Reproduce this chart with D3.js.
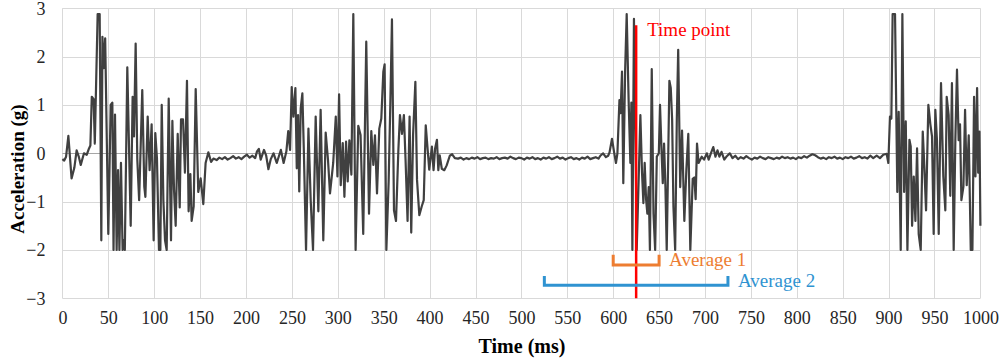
<!DOCTYPE html>
<html>
<head>
<meta charset="utf-8">
<script src="https://cdn.jsdelivr.net/npm/d3@7"></script>
<style>
  html, body { margin: 0; padding: 0; background: #fff; }
  svg { display: block; }
  text { font-family: "Liberation Serif", "Times New Roman", serif; }
</style>
</head>
<body>
<svg id="chart" width="1003" height="361"></svg>
<script>
// ---- data: [time (ms), acceleration (g)] ----
const burst1 = [
  [0,-0.12],[2,-0.15],[4,-0.07],[6.5,0.36],[10,-0.52],[13,-0.3],[15.5,0.06],[18,-0.08],[20,-0.24],
  [23.5,0.0],[26.5,-0.03],[29,0.1],[30.5,0.16],[32,1.17],[34,1.12],[35.3,0.2],[38.4,2.88],[40.6,2.88],
  [42.4,-1.8],[43.6,2.41],[45,1.76],[46.6,2.38],[50,-1.67],[52.6,1.0],[54.4,1.05],[55.7,-2.0],[57.3,0.8],
  [59.1,-2.0],[60.6,-0.35],[62.1,-2.0],[63.8,-0.2],[65.6,-2.0],[66.8,-1.8],[68,-2.0],[70.7,1.78],
  [74.4,-1.5],[76.5,1.17],[78,0.35],[79.8,2.27],[81.6,-0.13],[83.6,-0.97],[87,1.31],[89.2,-0.69],
  [90.4,-0.9],[92.9,0.76],[95,-0.35],[97.2,0.6],[99.4,-1.8],[101.2,0.42],[103,-0.1],[105.2,-2.0],
  [106.7,-2.0],[108.2,1.0],[110,-0.97],[111.8,-1.8],[113.6,-2.0],[115.8,1.13],[118.3,-1.8],[119.8,0.67],
  [121.6,-0.76],[123.4,-1.5],[125.6,0.4],[127.8,-1.12],[129.2,0.7],[131.4,0.7],[133.5,-0.4],[135.7,1.5],
  [137.5,-1.2],[139.4,-0.43],[140.8,-1.4],[143,-1.1],[145.2,1.33],[148,-0.8],[150.6,-0.52],[153.5,-1.05],
  [156,-0.2],[159,0.02],[162,-0.18],[164.5,-0.11]
];
const quiet1 = [
  [168,-0.14],[171,-0.09],[174,-0.12],[177,-0.08],[180,-0.13],[183,-0.1],[186,-0.06],[189,-0.11],
  [192,-0.08],[195,-0.12],[198,-0.07],[201,-0.03],[204,-0.09],[207,-0.05],[210,-0.1],[212,0.04],
  [214,0.09],[216,-0.13],[219.6,0.07],[222,-0.05],[224.4,-0.33],[227,-0.12],[230,0.0],[233.5,-0.2],
  [236,-0.05],[238,0.07],[241,-0.2],[244,0.04]
];
const burst2 = [
  [246,0.46],[248,0.07],[249.8,1.37],[251.6,0.76],[253.8,1.35],[255.3,-0.31],[256.7,0.79],[258,-0.79],
  [259.6,0.93],[261.4,1.24],[263,0.06],[265.4,-2.0],[268,0.51],[270.5,-0.98],[273,-2.0],[275.9,0.76],
  [278.8,-1.2],[281.3,0.9],[284.2,-1.8],[286.8,0.43],[289.3,-0.13],[291.5,-0.83],[295,-0.2],[297.8,0.76],
  [299.6,-0.48],[301.4,1.22],[303.2,-0.66],[305.4,0.21],[307.2,-0.9],[309,0.24],[310.8,-0.58],[312.6,0.27],
  [314.8,-0.44],[316.9,2.88],[319.4,-2.0],[322.3,0.57],[324.8,0.38],[327.7,-1.67],[331,2.31],[334,-1.25],
  [336.5,0.46],[338.7,-0.24],[340.5,0.37],[342.7,-0.83],[345.2,0.51],[347.4,0.72],[349.6,1.69],[351,1.84],
  [352.9,-2.0],[355.4,-0.58],[357.3,1.1],[359,2.77],[361.2,-1.18],[363.4,-1.4],[366,0.08],[367.7,0.79],
  [369.9,0.4],[372,0.79],[373.8,-0.13],[376,-1.4],[378.2,0.76],[380,-1.64],[382,0.38],[384.5,1.48],
  [386.3,-0.55],[388.8,-1.28],[391.4,-1.1],[393.6,-0.97],[395.8,0.58],[399.6,-0.34],[402.5,0.14],
  [404.3,-0.35],[406,0.1],[408,0.28],[409.5,-0.35],[411,-0.04],[413.3,-0.32],[416,-0.35],[418.6,-0.25],
  [422,-0.05],[424.6,-0.02],[427.5,-0.1]
];
const quiet2 = [
  [431,-0.11],[434,-0.09],[437,-0.13],[440,-0.1],[443,-0.12],[446,-0.09],[449,-0.11],[452,-0.08],
  [455,-0.12],[458,-0.1],[461,-0.09],[464,-0.12],[467,-0.1],[470,-0.11],[473,-0.08],[476,-0.12],
  [479,-0.1],[482,-0.09],[485,-0.11],[488,-0.07],[491,-0.1],[494,-0.12],[497,-0.09],[500,-0.1],
  [503,-0.13],[506,-0.09],[509,-0.11],[512,-0.08],[515,-0.12],[518,-0.1],[521,-0.13],[524,-0.09],
  [527,-0.11],[530,-0.08],[533,-0.12],[536,-0.1],[539,-0.07],[542,-0.11],[545,-0.09],[548,-0.13],
  [551,-0.1],[554,-0.08],[557,-0.12],[560,-0.1],[563,-0.13],[566,-0.09],[569,-0.11],[572,-0.07],
  [575,-0.12],[578,-0.1],[581,-0.08],[584,-0.11],[586,-0.05],[589,0.0],[592,-0.08],[594.5,-0.05]
];
const burst3 = [
  [596,0.02],[598.7,0.3],[601,0.02],[603,-0.2],[604.6,0.0],[606.8,1.1],[608,0.83],[609.6,1.69],
  [611,-0.62],[613,1.72],[614.7,2.88],[616.8,1.1],[618.7,-0.2],[619.8,1.05],[620.9,-2.0],[622.6,2.78],
  [624,0.9],[625.6,-2.0],[627.8,-0.5],[629.6,0.79],[631.4,-0.4],[632.9,-1.03],[634.3,-0.2],[635.8,-0.95],
  [637.2,-1.25],[638.7,-0.7],[640,-2.0],[642,1.74],[643.9,-1.25],[645.7,-2.0],[647.5,-0.07],[649.7,0.0],
  [651,1.0],[652.5,0.13],[654,-0.62],[655.4,0.2],[656.9,-0.7],[658.3,-2.0],[660,0.0],[661.2,1.5],
  [662.7,1.35],[664.2,0.7],[665.6,-1.1],[667.5,-2.0],[669.3,0.7],[670.8,2.14],[673,-0.7],[675,0.47],
  [677.5,-1.4],[679.7,-0.34],[681.8,0.4],[684,-2.0],[686.6,-0.53],[688.4,-0.5],[689.8,-0.95],[691.3,0.2],
  [693,-0.2],[696.4,-0.07],[699,-0.13],[702,0.0],[704,-0.13],[707,0.03],[709,0.13],[711.4,-0.07],
  [713.6,0.06],[715.7,-0.07],[718,0.03],[721,-0.13],[723.8,-0.06],[727,0.0]
];
const quiet3 = [
  [730,-0.1],[733,-0.05],[736,-0.12],[739,-0.08],[742,-0.11],[745,-0.06],[748,-0.1],[751,-0.13],
  [754,-0.09],[757,-0.11],[760,-0.07],[763,-0.1],[766,-0.12],[769,-0.08],[772,-0.1],[775,-0.12],
  [778,-0.09],[781,-0.11],[784,-0.07],[787,-0.1],[790,-0.08],[793,-0.11],[796,-0.09],[799,-0.12],
  [802,-0.08],[805,-0.1],[808,-0.06],[811,-0.09],[814,-0.05],[817,-0.02],[820,-0.04],[823,-0.08],
  [826,-0.11],[829,-0.09],[832,-0.12],[835,-0.08],[838,-0.1],[841,-0.07],[844,-0.11],[847,-0.09],
  [850,-0.12],[853,-0.08],[856,-0.1],[859,-0.07],[862,-0.11],[865,-0.09],[868,-0.06],[871,-0.1],
  [874,-0.08],[877,-0.11],[880,-0.05],[883.3,-0.1],[887,-0.05],[890.6,-0.1],[894.2,-0.03],[897.9,-0.01]
];
const burst4 = [
  [899.7,-0.2],[901.5,0.76],[903,0.72],[904.4,2.88],[907,2.88],[909.5,-0.8],[911,0.86],[913.2,-2.0],
  [915,2.88],[916.9,-0.8],[918.7,0.66],[920.5,-2.0],[922.7,0.28],[924.1,0.14],[925.6,-1.5],[927.4,-0.48],
  [929.2,-1.4],[931,0.1],[932.8,-1.67],[935,-2.0],[937.2,0.45],[938.6,-0.13],[940.8,-1.18],[943.3,1.0],
  [945.5,0.6],[947.3,0.35],[949.1,-1.67],[950.9,0.9],[952.7,0.27],[954.6,-1.67],[957.1,1.45],[959.6,-0.48],
  [961.8,-1.18],[963.3,1.17],[965.4,0.79],[967.2,-0.88],[969,1.45],[970.9,-2.0],[972.7,0.27],[974.5,1.73],
  [976.3,0.27],[977.8,0.6],[979.3,-0.97],[981.5,-0.69],[983.3,0.9],[985.1,-0.66],[987.3,0.37],[989.5,-2.0],
  [991.3,-2.0],[993.1,1.17],[994.6,-0.48],[996.4,1.35],[997.6,-0.4],[999,0.45],[1000,-1.5]
];

const xTicks = [0,50,100,150,200,250,300,350,400,450,500,550,600,650,700,750,800,850,900,950,1000];
const yTicks = [-3,-2,-1,0,1,2,3];

const timePoint = [625, 2.65];           // time (ms), top of marker (g)
const average1 = [600, 650, -2.31, -2.1]; // start, end, bracket level, tick top
const average2 = [525, 725, -2.73, -2.54];
const labels = ["Time point", "Average 1", "Average 2"];

// ---- chart ----
const signal = [].concat(burst1, quiet1, burst2, quiet2, burst3, quiet3, burst4);

const svg = d3.select("#chart");
const x = d3.scaleLinear().domain([0, 1000]).range([62.4, 980.4]);
const y = d3.scaleLinear().domain([-3, 3]).range([298.3, 8.3]);

const grid = svg.append("g");
grid.selectAll("line.v").data(xTicks).join("line")
  .attr("x1", d => Math.round(x(d)) + 0.5).attr("x2", d => Math.round(x(d)) + 0.5)
  .attr("y1", y(3)).attr("y2", y(-3))
  .attr("stroke", "#d9d9d9").attr("stroke-width", 1);
grid.selectAll("line.h").data(yTicks).join("line")
  .attr("x1", x(0)).attr("x2", x(1000))
  .attr("y1", d => Math.round(y(d)) + 0.5).attr("y2", d => Math.round(y(d)) + 0.5)
  .attr("stroke", d => d === 0 ? "#a6a6a6" : "#d9d9d9").attr("stroke-width", 1);

// axes (labels only)
const xAxis = svg.append("g").attr("transform", `translate(0,${y(-3)})`)
  .call(d3.axisBottom(x).tickValues(xTicks).tickSize(0).tickPadding(13).tickFormat(d3.format("d")));
xAxis.select(".domain").remove();
xAxis.selectAll("text").attr("font-family", "Liberation Serif, serif").attr("font-size", 18).attr("fill", "#262626");

const yAxis = svg.append("g").attr("transform", `translate(${x(0)},0)`)
  .call(d3.axisLeft(y).tickValues(yTicks).tickSize(0).tickPadding(17).tickFormat(d3.format("d")));
yAxis.select(".domain").remove();
yAxis.selectAll("text").attr("font-family", "Liberation Serif, serif").attr("font-size", 18).attr("fill", "#262626");

// signal
const line = d3.line().x(d => x(d[0])).y(d => y(d[1]));
svg.append("path").datum(signal)
  .attr("d", line).attr("fill", "none")
  .attr("stroke", "#404040").attr("stroke-width", 2.2).attr("stroke-linejoin", "round");

// time point
svg.append("line")
  .attr("x1", x(timePoint[0])).attr("x2", x(timePoint[0]))
  .attr("y1", y(-3)).attr("y2", y(timePoint[1]))
  .attr("stroke", "#ff0000").attr("stroke-width", 2.5);
svg.append("text").text(labels[0])
  .attr("x", x(timePoint[0]) + 11).attr("y", 36)
  .attr("font-size", 19).attr("fill", "#ff0000");

// brackets
function bracket(a, color, label, dy) {
  const p = d3.path();
  p.moveTo(x(a[0]), y(a[3]));
  p.lineTo(x(a[0]), y(a[2]));
  p.lineTo(x(a[1]), y(a[2]));
  p.lineTo(x(a[1]), y(a[3]));
  svg.append("path").attr("d", p.toString()).attr("fill", "none")
    .attr("stroke", color).attr("stroke-width", 3);
  svg.append("text").text(label)
    .attr("x", x(a[1]) + 10).attr("y", y(a[2]) + dy)
    .attr("font-size", 19).attr("fill", color);
}
bracket(average1, "#ED7D31", labels[1], 1);
bracket(average2, "#2F93D1", labels[2], 2);

// titles
svg.append("text").text("Time (ms)")
  .attr("x", 522).attr("y", 353).attr("text-anchor", "middle")
  .attr("font-size", 20).attr("font-weight", "bold").attr("fill", "#000");
svg.append("text").text("Acceleration (g)")
  .attr("transform", "translate(24,169) rotate(-90)").attr("text-anchor", "middle")
  .attr("font-size", 19).attr("font-weight", "bold").attr("fill", "#000");
</script>
</body>
</html>
